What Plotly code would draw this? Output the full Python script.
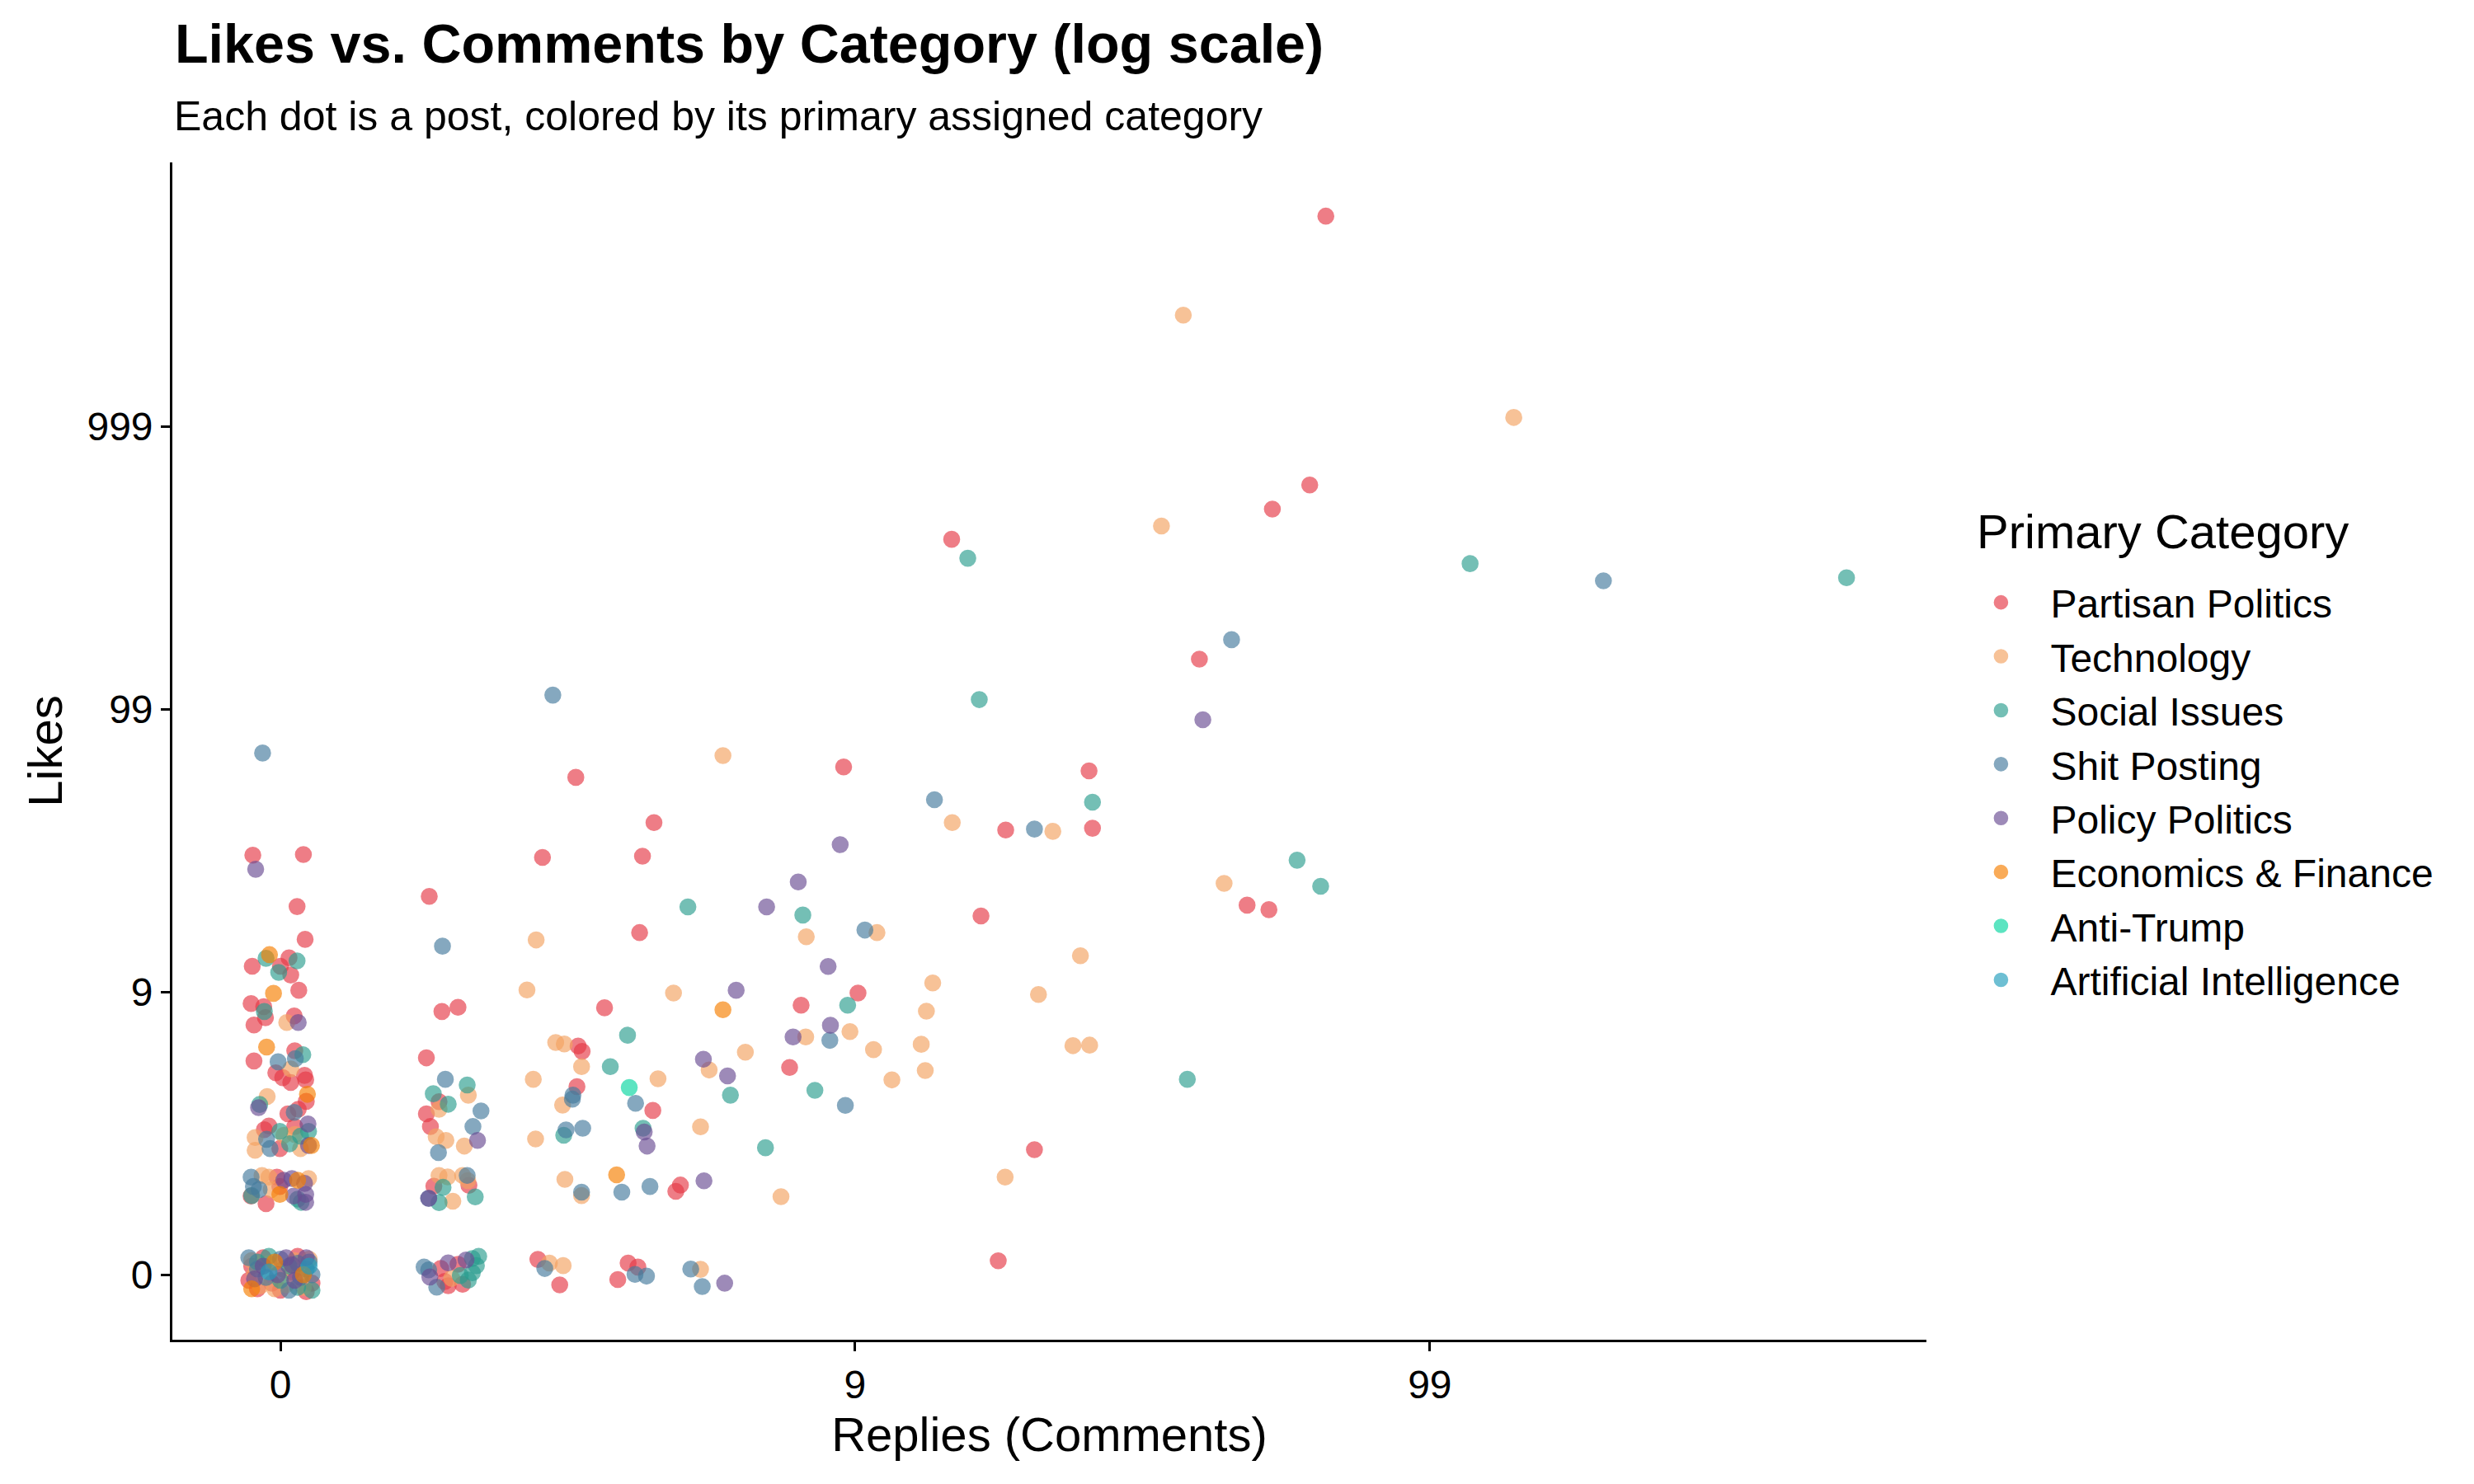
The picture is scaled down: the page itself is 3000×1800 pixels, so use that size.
import plotly.graph_objects as go

# Positions on the log1p scale, i.e. log10(count + 1)
# (jitter included). 0 -> 0, 1 -> 9, 2 -> 99, 3 -> 999.

partisan_replies = [1.819, 1.791, 1.726, 1.168, 1.599, 1.682, 1.720,
                    0.980, 1.407, 1.262, 1.413, 1.219, 1.005, 1.312, 1.249,
                    0.514, 0.650, 0.456, 0.630, 0.625, 0.564, 0.906, 0.518, 0.525, 0.886,
                    0.516, 0.648, 0.696, 0.688, 0.448, 0.486, 0.605, 0.622, 0.587,
                    0.259, 0.281, 0.309, 0.254, 0.276, 0.254, 0.261, 0.267, 0.328,
                    0.279, 0.286, 0.292, 0.309, 0.317,
                    -0.048, 0.040, 0.029, 0.043, -0.049, 0.015, 0.000, 0.018, 0.032, -0.051,
                    -0.029, -0.026, -0.046, 0.024, -0.046, 0.025, -0.008, 0.004, 0.018, 0.042,
                    0.044, 0.045, 0.013, 0.031, -0.020, -0.028, -0.001, 0.025, -0.051, -0.025,
                    -0.006, -0.001,
                    -0.055, -0.050, -0.040, -0.030, 0.000, 0.020, 0.045, 0.055, 0.030, -0.015]
partisan_likes = [3.744, 2.793, 2.708, 2.601, 2.177, 1.307, 1.291,
                  1.796, 1.782, 1.573, 1.579, 1.269, 0.996, 0.442, 0.049,
                  1.759, 1.599, 1.476, 1.480, 1.210, 0.944, 0.953, 0.809, 0.790, 0.733,
                  0.665, 0.581, 0.317, 0.295, 0.054, -0.036, 0.041, 0.027, -0.017,
                  1.338, 0.931, 0.946, 0.767, 0.612, 0.569, 0.524, 0.313, 0.316,
                  0.022, -0.024, -0.039, 0.037, -0.034,
                  1.484, 1.486, 1.302, 1.186, 1.091, 1.121, 1.091, 1.060, 1.006, 0.959,
                  0.948, 0.909, 0.883, 0.915, 0.756, 0.792, 0.714, 0.697, 0.680, 0.705,
                  0.689, 0.613, 0.569, 0.585, 0.526, 0.513, 0.446, 0.524, 0.278, 0.251,
                  0.345, 0.312,
                  -0.020, 0.030, -0.050, 0.060, -0.055, 0.010, -0.060, -0.030, 0.065, -0.030]

tech_replies = [1.571, 1.533, 2.146, 1.642,
                1.169, 1.344, 1.038, 1.392, 1.135, 1.319, 1.124, 0.991, 1.032, 1.115,
                1.379, 1.408, 1.122, 1.064, 1.261,
                0.770, 0.915, 0.445, 0.429, 0.684, 0.914, 0.479, 0.494, 0.524, 0.746,
                0.809, 0.440, 0.657, 0.491, 0.444, 0.731, 0.495, 0.524, 0.871, 0.468,
                0.492, 0.731,
                0.327, 0.276, 0.271, 0.288, 0.320, 0.276, 0.291, 0.317, 0.326, 0.300, 0.298,
                0.011, 0.018, -0.023, -0.044, -0.044, 0.006, 0.025, 0.035, -0.032, -0.020,
                -0.016, 0.049,
                -0.050, -0.035, -0.020, -0.010, 0.005, 0.010, 0.025, 0.040, 0.050, -0.045]
tech_likes = [3.394, 2.648, 3.032, 1.384,
              1.599, 1.568, 1.210, 1.128, 1.032, 0.991, 0.932, 0.860, 0.796, 0.815,
              0.810, 0.812, 0.722, 0.689, 0.345,
              1.836, 1.195, 1.184, 1.007, 0.996, 0.841, 0.821, 0.816, 0.736, 0.724,
              0.787, 0.691, 0.693, 0.600, 0.480, 0.523, 0.337, 0.280, 0.276, 0.041,
              0.032, 0.019,
              0.635, 0.585, 0.488, 0.475, 0.455, 0.351, 0.346, 0.351, 0.333, 0.260, -0.013,
              0.892, 0.728, 0.630, 0.485, 0.440, 0.493, 0.496, 0.446, 0.351, 0.345,
              0.301, 0.340,
              0.050, -0.040, 0.040, -0.050, 0.020, -0.035, 0.050, -0.045, 0.055, 0.000]

social_replies = [1.196, 2.070, 1.216, 2.725, 1.769, 1.810, 1.578, 1.413, 0.987,
                  0.709, 0.909, 0.604, 0.574, 0.783, 0.930, 0.493, 0.631, 0.844,
                  0.325, 0.266, 0.292, 0.283, 0.276, 0.339, 0.334, 0.341, 0.334, 0.327,
                  0.313, 0.345,
                  -0.025, 0.029, -0.003, -0.028, 0.039, -0.036, 0.049, -0.001, 0.016, 0.035,
                  -0.050, 0.030, 0.036,
                  -0.040, 0.000, 0.030, -0.020, 0.055, 0.015]
social_likes = [2.534, 2.515, 2.034, 2.465, 1.466, 1.374, 0.691, 1.671, 0.953,
                1.301, 1.272, 0.847, 0.736, 0.635, 0.652, 0.493, 0.518, 0.449,
                0.671, 0.640, 0.603, 0.309, 0.255, 0.275, 0.057, 0.032, 0.007, -0.019,
                -0.003, 0.065,
                1.119, 1.110, 1.069, 0.931, 0.778, 0.602, 0.507, 0.507, 0.463, 0.490,
                0.280, 0.267, 0.256,
                0.045, -0.020, -0.045, 0.065, -0.055, 0.030]

shit_replies = [1.655, 2.302, 1.138, 1.312, 1.017, 0.956, 0.983,
                0.474, 0.509, 0.508, 0.618, 0.497, 0.526, 0.524, 0.594, 0.643, 0.460,
                0.617, 0.637, 0.714, 0.734,
                0.282, 0.287, 0.349, 0.335, 0.275, 0.325, 0.258, 0.258, 0.272, 0.250,
                -0.031, -0.004, 0.026, 0.024, -0.024, -0.018, -0.051, -0.047, -0.037,
                0.030, 0.045, 0.055, 0.050, 0.035, -0.040, -0.025, 0.000, 0.015, -0.055]
shit_likes = [2.246, 2.454, 1.680, 1.576, 1.219, 0.829, 0.599,
              2.050, 0.635, 0.621, 0.606, 0.512, 0.518, 0.292, 0.292, 0.312, 0.022,
              0.001, -0.005, 0.020, -0.042,
              1.162, 0.691, 0.579, 0.524, 0.432, 0.351, 0.270, 0.017, -0.044, 0.027,
              1.845, 0.753, 0.764, 0.574, 0.479, 0.446, 0.345, 0.312, 0.301,
              0.040, 0.020, 0.000, 0.045, -0.010, 0.020, -0.010, 0.055, -0.055, 0.060]

policy_replies = [1.605, 0.974, 0.953, 0.957,
                  0.901, 0.846, 0.793, 0.892, 0.736, 0.778, 0.633, 0.638, 0.737, 0.773,
                  0.343, 0.258, 0.260, 0.292, 0.323,
                  -0.043, 0.031, -0.038, 0.048, 0.049, 0.006, 0.020, 0.023, 0.042, 0.044, 0.044,
                  -0.045, -0.030, 0.010, 0.025, 0.020, -0.005, 0.045]
policy_likes = [1.963, 1.521, 1.090, 0.882,
                1.389, 1.301, 1.006, 0.841, 0.762, 0.703, 0.505, 0.455, 0.332, -0.030,
                0.475, 0.270, -0.008, 0.042, 0.052,
                1.434, 0.892, 0.591, 0.533, 0.457, 0.334, 0.340, 0.278, 0.323, 0.284, 0.256,
                -0.015, 0.030, 0.060, -0.020, 0.035, 0.000, 0.060]

econ_replies = [0.770, 0.585, -0.019, -0.012, -0.024, 0.047, 0.054, -0.001, 0.030,
                -0.050, 0.040, -0.010]
econ_likes = [0.937, 0.353, 1.132, 0.995, 0.805, 0.638, 0.457, 0.284, 0.334,
              -0.050, 0.000, 0.045]

antitrump_replies = [0.607]
antitrump_likes = [0.662]

ai_replies = [0.050, -0.020]
ai_likes = [0.030, 0.010]

categories = ["Partisan Politics", "Technology", "Social Issues", "Shit Posting",
              "Policy Politics", "Economics & Finance", "Anti-Trump", "Artificial Intelligence"]
colors = ["#E63946", "#F4A261", "#2A9D8F", "#457B9D",
          "#6A4C93", "#F77F00", "#06D6A0", "#219EBC"]
series = [(partisan_replies, partisan_likes), (tech_replies, tech_likes),
          (social_replies, social_likes), (shit_replies, shit_likes),
          (policy_replies, policy_likes), (econ_replies, econ_likes),
          (antitrump_replies, antitrump_likes), (ai_replies, ai_likes)]

FONT = "Liberation Sans, Arial, Helvetica, sans-serif"

fig = go.Figure()

for name, color, (xs, ys) in zip(categories, colors, series):
    fig.add_trace(go.Scatter(
        x=xs,
        y=ys,
        mode="markers",
        name=name,
        marker=dict(size=19, color=color, opacity=0.65,
                    line=dict(color=color, width=1.6)),
    ))

fig.update_layout(
    width=3000,
    height=1800,
    margin=dict(l=201, r=672, t=189, b=183),
    plot_bgcolor="white",
    paper_bgcolor="white",
    font=dict(family=FONT, size=50, color="black"),
    title=dict(text="<b>Likes vs. Comments by Category (log scale)</b>",
               font=dict(size=66.5, color="black"),
               x=204 / 3000, xanchor="left", xref="container",
               y=1 - 45 / 1800, yanchor="middle", yref="container"),
    xaxis=dict(
        title=dict(text="Replies (Comments)", font=dict(size=58), standoff=14),
        range=[-0.188, 2.864],
        tickvals=[0, 1, 2],
        ticktext=["0", "9", "99"],
        showgrid=False, zeroline=False,
        showline=True, linecolor="black", linewidth=2.7,
        ticks="outside", ticklen=11, tickwidth=2.5, tickcolor="black",
        tickfont=dict(size=48, color="black"),
    ),
    yaxis=dict(
        title=dict(text="Likes", font=dict(size=58), standoff=12),
        range=[-0.23, 3.934],
        tickvals=[0, 1, 2, 3],
        ticktext=["0", "9", "99", "999"],
        showgrid=False, zeroline=False,
        showline=True, linecolor="black", linewidth=2.7,
        ticks="outside", ticklen=11, tickwidth=2.5, tickcolor="black",
        tickfont=dict(size=48, color="black"),
    ),
    legend=dict(
        font=dict(size=48),
        x=1.0143, xanchor="left",
        y=0.6527, yanchor="top",
        itemsizing="trace",
        itemwidth=110,
        tracegroupgap=0,
    ),
    showlegend=True,
)

# subtitle
fig.add_annotation(
    text="Each dot is a post, colored by its primary assigned category",
    xref="paper", yref="paper",
    x=0.0, xanchor="left",
    y=1.0392, yanchor="middle",
    showarrow=False,
    font=dict(size=50, color="black"),
)

# legend heading
fig.add_annotation(
    text="Primary Category",
    xref="paper", yref="paper",
    x=1.0277, xanchor="left",
    y=0.6863, yanchor="middle",
    showarrow=False,
    font=dict(size=58, color="black"),
)

fig.write_html("out.html")
